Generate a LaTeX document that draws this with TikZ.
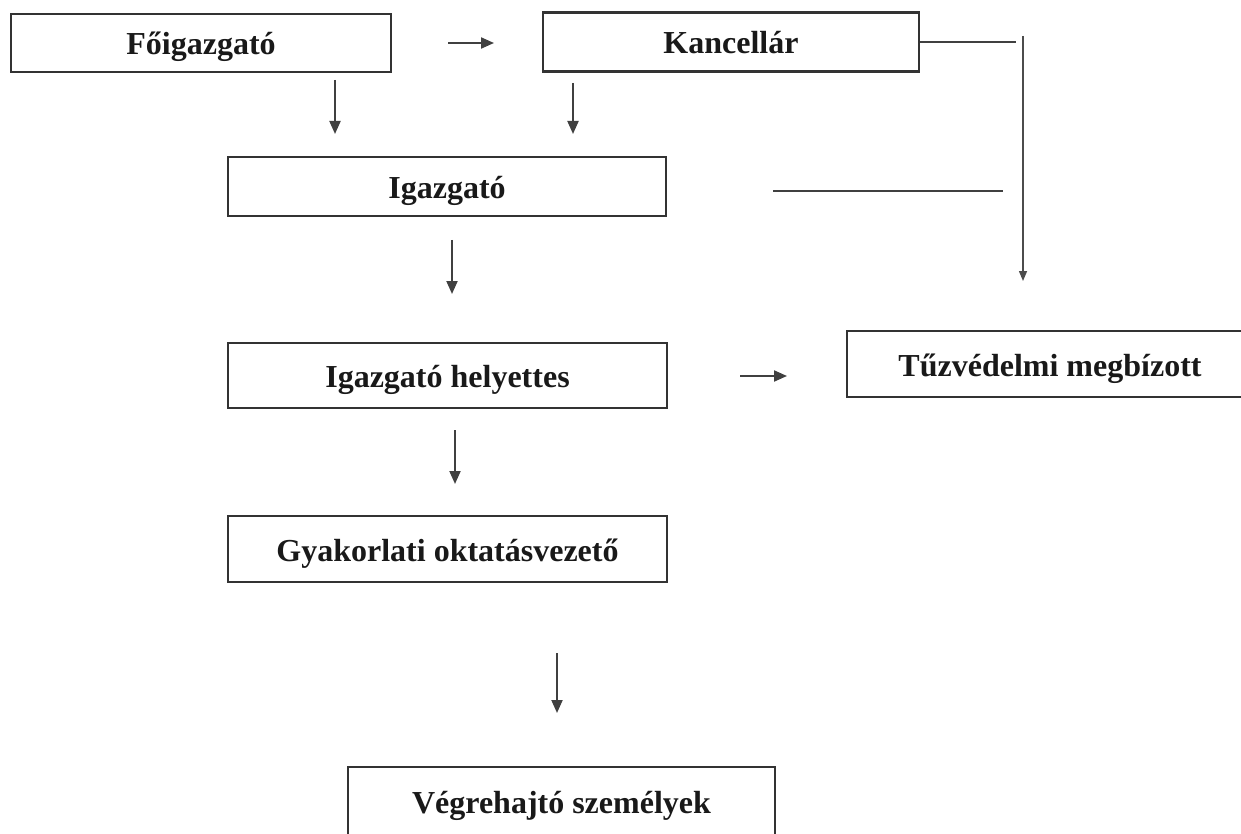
\documentclass[tikz,border=0pt]{standalone}
\usepackage{fontspec}
\setmainfont{Liberation Serif}
\usetikzlibrary{arrows.meta}
\begin{document}
\begin{tikzpicture}[x=1pt,y=-1pt,
  box/.style={draw=black!80, line width=2.2pt, rectangle, inner sep=0pt,
    text height=30pt, text depth=6pt,
    font=\fontsize{32}{36}\selectfont\bfseries, text=black!90},
  conn/.style={draw=black!75, line width=2pt},
  arr/.style={conn, -{Triangle[width=11pt,length=13pt]}},
  thinarr/.style={draw=black!70, line width=1.5pt, -{Triangle[width=8pt,length=10pt]}}
]
\useasboundingbox (0,0) rectangle (1241,834);
\clip (0,0) rectangle (1241,834);
\fill[white] (0,0) rectangle (1241,834);

\node[box, minimum width=380pt, minimum height=58pt] (F) at (201,43) {Főigazgató};
\node[box, minimum width=376pt, minimum height=59pt] (K) at (731,42) {Kancellár};
\node[box, minimum width=438pt, minimum height=59pt] (I) at (447,186.5) {Igazgató};
\node[box, minimum width=439pt, minimum height=65pt] (IH) at (447.5,375.5) {Igazgató helyettes};
\node[box, minimum width=406pt, minimum height=66pt] (T) at (1050,364) {Tűzvédelmi megbízott};
\node[box, minimum width=439pt, minimum height=66pt] (G) at (447.5,549) {Gyakorlati oktatásvezető};
\node[box, minimum width=427pt, minimum height=68pt] (V) at (561.5,801) {Végrehajtó személyek};

% free connector ends
\coordinate (fk1) at (448,43);   \coordinate (fk2) at (494,43);
\coordinate (fd1) at (335,80);   \coordinate (fd2) at (335,134);
\coordinate (kd1) at (573,83);   \coordinate (kd2) at (573,134);
\coordinate (kr)  at (1016,42);
\coordinate (v1)  at (1023,36);  \coordinate (v2)  at (1023,281);
\coordinate (h1)  at (773,191);  \coordinate (h2)  at (1003,191);
\coordinate (id1) at (452,240);  \coordinate (id2) at (452,294);
\coordinate (it1) at (740,376);  \coordinate (it2) at (787,376);
\coordinate (hd1) at (455,430);  \coordinate (hd2) at (455,484);
\coordinate (gd1) at (557,653);  \coordinate (gd2) at (557,713);

\draw[arr] (fk1) -- (fk2);
\draw[arr] (fd1) -- (fd2);
\draw[arr] (kd1) -- (kd2);
\draw[conn] (K.east) -- (kr);
\draw[thinarr] (v1) -- (v2);
\draw[conn] (h1) -- (h2);
\draw[arr] (id1) -- (id2);
\draw[arr] (it1) -- (it2);
\draw[arr] (hd1) -- (hd2);
\draw[arr] (gd1) -- (gd2);
\end{tikzpicture}
\end{document}
